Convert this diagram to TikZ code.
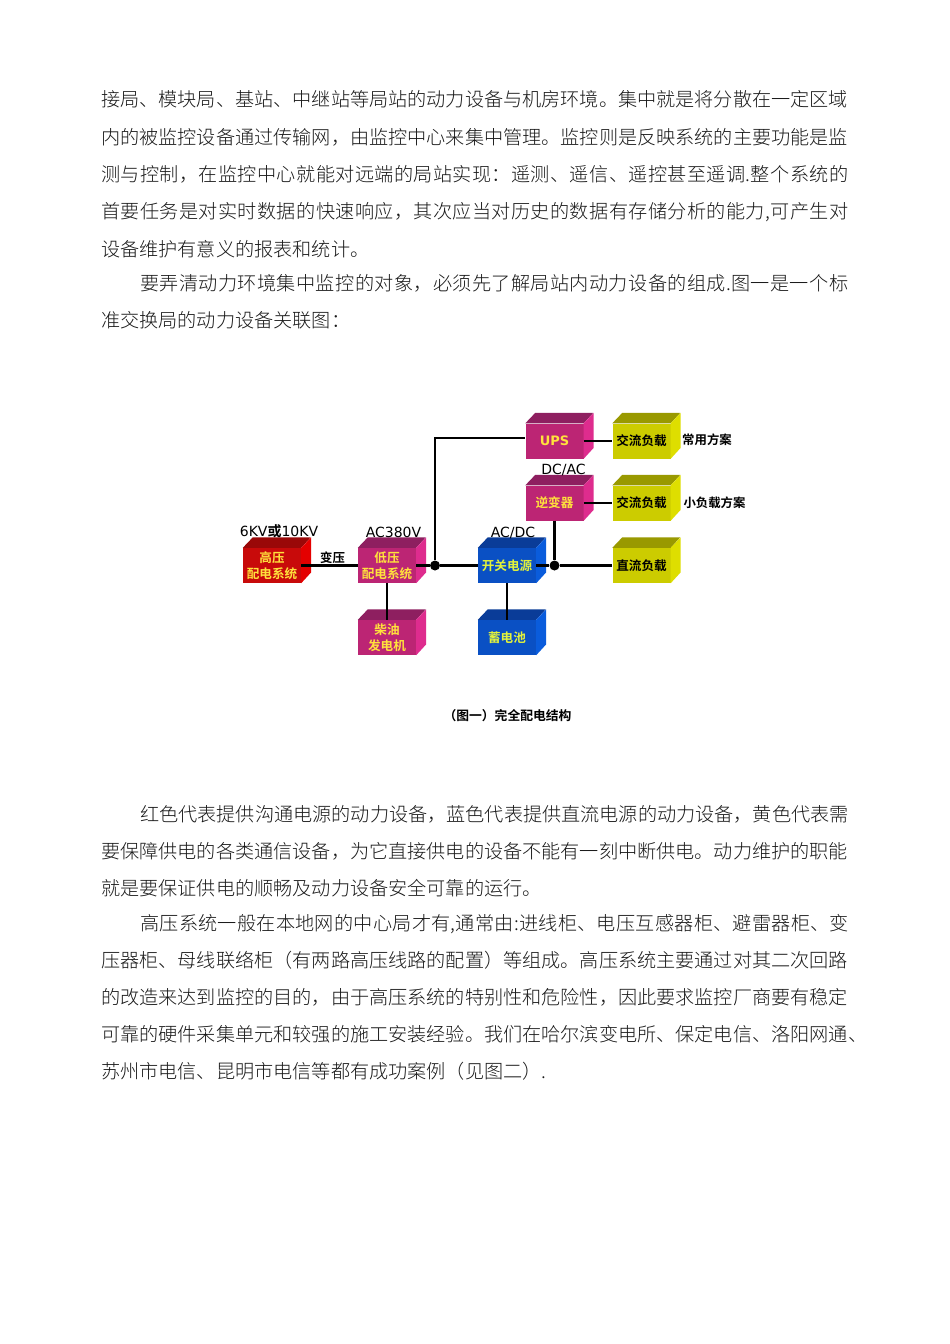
\documentclass[tikz,border=0pt]{standalone}
\usepackage{fontspec}
\setmainfont{Liberation Serif}
\newfontfamily\cjk{Noto Sans CJK SC Light}
\newfontfamily\cjkb{Noto Sans CJK SC Bold}
\newfontfamily\lab{DejaVu Sans}
\definecolor{redF}{HTML}{C80A0A}\definecolor{redT}{HTML}{9A0808}\definecolor{redS}{HTML}{E40000}
\definecolor{magF}{HTML}{BC2574}\definecolor{magT}{HTML}{8E1F60}\definecolor{magS}{HTML}{DE2C8E}
\definecolor{bluF}{HTML}{0A50C4}\definecolor{bluT}{HTML}{0A3C98}\definecolor{bluS}{HTML}{0A5CDC}
\definecolor{yelF}{HTML}{CCCC00}\definecolor{yelT}{HTML}{999900}\definecolor{yelS}{HTML}{DEDE00}
\definecolor{labY}{HTML}{FFE23C}\definecolor{labG}{HTML}{E2F23C}
\tikzset{
  x=1pt,y=-1pt,
  front/.style={rectangle,inner sep=0pt,minimum width=58pt,minimum height=35pt,align=center,font=\cjkb\fontsize{12.6}{15.5}\selectfont},
  wire/.style={line width=2.8pt,black},
  dot/.style={circle,fill=black,inner sep=0pt,minimum size=10pt},
  body/.style={anchor=base west,inner sep=0pt,text=black!90},
  volt/.style={inner sep=0pt,font=\lab\fontsize{14}{14}\selectfont},
  note/.style={inner sep=0pt,font=\cjkb\fontsize{12.4}{12.4}\selectfont},
}
% name, colour prefix, centre x, centre y, label, label colour
\newcommand{\cube}[6]{%
  \node[front,fill=#2F,text=#6] (#1) at (#3,#4) {#5};
  \fill[#2T] (#1.north west) -- ++(10,-10.5) -- ++(58,0) -- (#1.north east) -- cycle;
  \fill[#2S] (#1.north east) -- ++(10,-10.5) -- ++(0,35) -- (#1.south east) -- cycle;
}
% name, x, baseline y, letter spacing (percent of the size), text
\newcommand{\tl}[5]{\node[body] (#1) at (#2,#3) {\cjk\fontsize{19.15}{19.15}\selectfont\addfontfeature{LetterSpace=#4}#5};}
\begin{document}
\begin{tikzpicture}
\path[use as bounding box,fill=white] (0,0) rectangle (950,1344);
% body text
\tl{a1}{101}{106}{0}{接局、模块局、基站、中继站等局站的动力设备与机房环境。集中就是将分散在一定区域}
\tl{a2}{101}{144}{0}{内的被监控设备通过传输网，由监控中心来集中管理。监控则是反映系统的主要功能是监}
\tl{a3}{101}{181}{2.0}{测与控制，在监控中心就能对远端的局站实现：遥测、遥信、遥控甚至遥调.整个系统的}
\tl{a4}{101}{218}{2.0}{首要任务是对实时数据的快速响应，其次应当对历史的数据有存储分析的能力,可产生对}
\tl{a5}{101}{256}{0}{设备维护有意义的报表和统计。}
\tl{a6}{140}{290}{2.0}{要弄清动力环境集中监控的对象，必须先了解局站内动力设备的组成.图一是一个标}
\tl{a7}{101}{327}{0}{准交换局的动力设备关联图：}
\tl{b1}{140}{821}{0}{红色代表提供沟通电源的动力设备，蓝色代表提供直流电源的动力设备，黄色代表需}
\tl{b2}{101}{858}{0}{要保障供电的各类通信设备，为它直接供电的设备不能有一刻中断供电。动力维护的职能}
\tl{b3}{101}{895}{0}{就是要保证供电的顺畅及动力设备安全可靠的运行。}
\tl{c1}{140}{930}{1.4}{高压系统一般在本地网的中心局才有,通常由:进线柜、电压互感器柜、避雷器柜、变}
\tl{c2}{101}{967}{0}{压器柜、母线联络柜（有两路高压线路的配置）等组成。高压系统主要通过对其二次回路}
\tl{c3}{101}{1004}{0}{的改造来达到监控的目的，由于高压系统的特别性和危险性，因此要求监控厂商要有稳定}
\tl{c4}{101}{1041}{0}{可靠的硬件采集单元和较强的施工安装经验。我们在哈尔滨变电所、保定电信、洛阳网通、}
\tl{c5}{101}{1078}{0}{苏州市电信、昆明市电信等都有成功案例（见图二）.}
% boxes
\cube{hi}{red}{272}{565.5}{高压\\配电系统}{labY}
\cube{lo}{mag}{387}{565.5}{低压\\配电系统}{labY}
\cube{ge}{mag}{387}{637.5}{柴油\\发电机}{labY}
\cube{ps}{blu}{507}{565.5}{开关电源}{labG}
\cube{ba}{blu}{507}{637.5}{蓄电池}{labG}
\cube{up}{mag}{554.5}{441}{\lab\bfseries\fontsize{13}{13}\selectfont UPS}{labY}
\cube{in}{mag}{554.5}{503}{逆变器}{labY}
\cube{l1}{yel}{641.5}{441}{交流负载}{black}
\cube{l2}{yel}{641.5}{503}{交流负载}{black}
\cube{l3}{yel}{641.5}{565.5}{直流负载}{black}
% junctions
\node[dot] (j1) at (435,565.5) {};
\node[dot] (j2) at (in.south |- ps.east) {};
\coordinate (cn) at (435,438);
\coordinate (ui) at (cn -| up.west);
% connectors
\draw[wire] (hi.east) -- (lo.west);
\draw[wire] (lo.east) -- (j1) -- (ps.west);
\draw[wire] (j1) -- (cn) -- (ui);
\draw[wire] (up.east) -- (l1.west);
\draw[wire] (in.east) -- (l2.west);
\draw[wire] (ps.east) -- (j2) -- (l3.west);
\draw[wire] (in.south) -- (j2);
\draw[wire] (lo.south) -- (ge.north);
\draw[wire] (ps.south) -- (ba.north);
% labels
\node[volt] (v1) at (279,531) {6KV{\cjkb 或}10KV};
\node[volt] (v2) at (393.5,532) {AC380V};
\node[volt] (v3) at (513,533) {AC/DC};
\node[volt] (v4) at (563.5,470) {DC/AC};
\node[note] (n0) at (332.5,558) {变压};
\node[note] (n1) at (707,440) {常用方案};
\node[note] (n2) at (714.5,503) {小负载方案};
\node[note,font=\cjkb\fontsize{12.8}{12.8}\selectfont] (cap) at (507.5,716) {（图一）完全配电结构};
\end{tikzpicture}
\end{document}
